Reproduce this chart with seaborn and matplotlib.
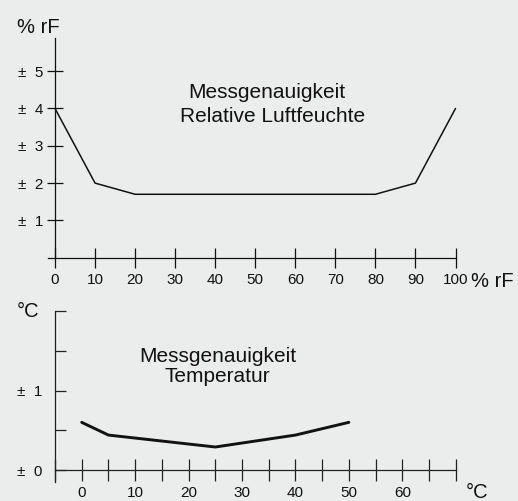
import numpy as np
import pandas as pd
import matplotlib
matplotlib.use("Agg")
import matplotlib.pyplot as plt
import seaborn as sns

# ---- data ----
rh_x = [0, 10, 20, 80, 90, 100]
rh_acc = [4.0, 2.0, 1.7, 1.7, 2.0, 4.0]
rh_xticks = [0, 10, 20, 30, 40, 50, 60, 70, 80, 90, 100]
rh_yticks = [1, 2, 3, 4, 5]
rh_ylabels = ["±  1", "±  2", "±  3", "±  4", "±  5"]

t_x = [0, 5, 25, 40, 50]
t_acc = [0.6, 0.44, 0.29, 0.44, 0.6]
t_xticks = list(range(-5, 75, 5))
t_xlabel_vals = [0, 10, 20, 30, 40, 50, 60]
t_yticks = [0, 0.5, 1.0, 1.5, 2.0]
t_ylabels = ["±  0", "", "±  1", "", ""]

title_rh = ["Messgenauigkeit", "Relative Luftfeuchte"]
title_t = ["Messgenauigkeit", "Temperatur"]

BG = "#ebecec"
INK = "#111111"

sns.set_style("ticks")
plt.rcParams["font.family"] = ["Liberation Sans", "DejaVu Sans"]

W, H = 518, 501
fig = plt.figure(figsize=(W / 100, H / 100), dpi=100, facecolor=BG)


def rect(x0, y_top, x1, y_bot):
    return [x0 / W, 1 - y_bot / H, (x1 - x0) / W, (y_bot - y_top) / H]


def ftext(x, y, s, **kw):
    fig.text(x / W, 1 - y / H, s, **kw)


# ---- top chart: relative humidity ----
ax1 = fig.add_axes(rect(48, 38, 455.5, 257.7))
ax1.patch.set_alpha(0)
df1 = pd.DataFrame({"x": rh_x, "y": rh_acc})
sns.lineplot(data=df1, x="x", y="y", ax=ax1, color=INK, linewidth=1.1, clip_on=False)
ax1.set_xlim(-1.75, 100)
ax1.set_ylim(0, 5.89)
ax1.spines["left"].set_position(("data", 0))
for s in ["top", "right"]:
    ax1.spines[s].set_visible(False)
for s in ["left", "bottom"]:
    ax1.spines[s].set_linewidth(0.9)
    ax1.spines[s].set_color(INK)
ax1.set_xticks(rh_xticks)
ax1.set_xticklabels([str(v) for v in rh_xticks])
ax1.set_yticks(rh_yticks)
ax1.set_yticklabels(rh_ylabels)
ax1.tick_params(axis="x", direction="inout", length=14.4, width=0.9, pad=4.0,
                labelsize=11, color=INK, labelcolor=INK)
ax1.tick_params(axis="y", direction="inout", length=11.5, width=0.9, pad=2.5,
                labelsize=11, color=INK, labelcolor=INK)
ax1.set_xlabel("")
ax1.set_ylabel("")
ax1.text(52.8, 4.27, title_rh[0], ha="center", va="baseline", fontsize=15, color=INK)
ax1.text(54.2, 3.65, title_rh[1], ha="center", va="baseline", fontsize=15, color=INK)

ftext(17, 33, "% rF", ha="left", va="baseline", fontsize=14.5, color=INK)
ftext(471, 287, "% rF", ha="left", va="baseline", fontsize=14.5, color=INK)

# ---- bottom chart: temperature ----
ax2 = fig.add_axes(rect(55, 311, 455.7, 482))
ax2.patch.set_alpha(0)
df2 = pd.DataFrame({"x": t_x, "y": t_acc})
sns.lineplot(data=df2, x="x", y="y", ax=ax2, color=INK, linewidth=2.1, clip_on=False)
ax2.set_xlim(-5, 70)
ax2.set_ylim(-0.15, 2.0)
ax2.spines["bottom"].set_position(("data", 0))
for s in ["top", "right"]:
    ax2.spines[s].set_visible(False)
for s in ["left", "bottom"]:
    ax2.spines[s].set_linewidth(0.9)
    ax2.spines[s].set_color("#222222")
ax2.set_xticks(t_xticks)
ax2.set_xticklabels([str(v) if v in t_xlabel_vals else "" for v in t_xticks])
ax2.set_yticks(t_yticks)
ax2.set_yticklabels(t_ylabels)
ax2.tick_params(axis="x", direction="inout", length=15.8, width=0.9, pad=3.5,
                labelsize=11, color="#222222", labelcolor=INK)
ax2.tick_params(axis="y", direction="in", length=8, width=0.9, pad=9,
                labelsize=11, color="#222222", labelcolor=INK)
ax2.set_xlabel("")
ax2.set_ylabel("")
ax2.text(25.4, 1.356, title_t[0], ha="center", va="baseline", fontsize=15, color=INK)
ax2.text(25.4, 1.105, title_t[1], ha="center", va="baseline", fontsize=15, color=INK)

ftext(17, 317, "°C", ha="left", va="baseline", fontsize=14.5, color=INK)
ftext(466, 498.5, "°C", ha="left", va="baseline", fontsize=14.5, color=INK)

fig.savefig("out.png", dpi=100, facecolor=BG)
